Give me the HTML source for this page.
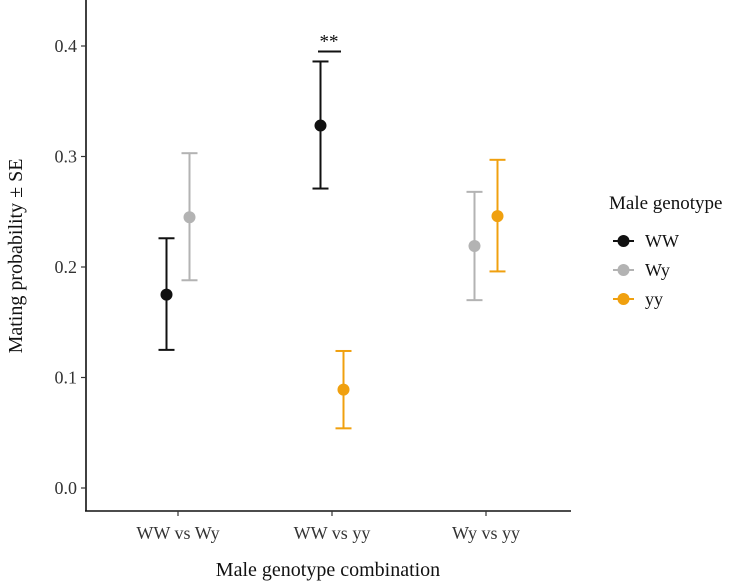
<!DOCTYPE html>
<html><head><meta charset="utf-8"><style>
body{margin:0;background:#fff}
svg{display:block;font-family:"Liberation Serif",serif}
</style></head><body>
<svg width="741" height="583" viewBox="0 0 741 583">
<g id="plot"></g>
<script>
const categories=["WW vs Wy","WW vs yy","Wy vs yy"];
const genotypes=["WW","Wy","yy"];
const colors={"WW":"#111111","Wy":"#b3b3b3","yy":"#f0a00f"};
const seriesCat=[0,0,1,1,2,2];
const seriesGeno=["WW","Wy","WW","yy","Wy","yy"];
const means=[0.175,0.245,0.328,0.089,0.219,0.246];
const lows=[0.125,0.188,0.271,0.054,0.170,0.196];
const highs=[0.226,0.303,0.386,0.124,0.268,0.297];
const yTicks=[0,0.1,0.2,0.3,0.4];
const yTickLabels=["0.0","0.1","0.2","0.3","0.4"];
const sigValue=0.395;
const NS="http://www.w3.org/2000/svg";
const g=document.getElementById('plot');
const y=v=>488-v*1105;
const xc=i=>178+i*154;
function mk(t,a,p){const e=document.createElementNS(NS,t);for(const k in a)e.setAttribute(k,a[k]);(p||g).appendChild(e);return e;}
let e=mk('line',{x1:86,y1:0,x2:86,y2:511,stroke:'#111','stroke-width':1.6});


e=mk('line',{x1:85,y1:511,x2:571,y2:511,stroke:'#111','stroke-width':1.6});


yTicks.forEach((v,i)=>{
 let t=mk('line',{x1:81,x2:86,y1:y(v),y2:y(v),stroke:'#333','stroke-width':1.2});
 
 
 let l=mk('text',{x:77,y:y(v)+6,'text-anchor':'end','font-size':18,fill:'#333'});
 l.textContent=yTickLabels[i];
 
 
});
categories.forEach((c,i)=>{
 let t=mk('line',{x1:xc(i),x2:xc(i),y1:511,y2:516,stroke:'#333','stroke-width':1.2});
 
 
 let l=mk('text',{x:xc(i),y:539,'text-anchor':'middle','font-size':18,fill:'#333'});
 l.textContent=c;
 
 
});
means.forEach((m,i)=>{
 const first=seriesCat.indexOf(seriesCat[i])===i;
 const x=xc(seriesCat[i])+(first?-11.5:11.5);const col=colors[seriesGeno[i]];
 const grp=mk('g',{});
 
 
 mk('line',{x1:x,x2:x,y1:y(lows[i]),y2:y(highs[i]),stroke:col,'stroke-width':2},grp);
 mk('line',{x1:x-8,x2:x+8,y1:y(lows[i]),y2:y(lows[i]),stroke:col,'stroke-width':2},grp);
 mk('line',{x1:x-8,x2:x+8,y1:y(highs[i]),y2:y(highs[i]),stroke:col,'stroke-width':2},grp);
 const p=mk('circle',{cx:x,cy:y(m),r:6,fill:col});
 
 
});
e=mk('line',{x1:xc(1)-14,x2:xc(1)+9,y1:y(sigValue),y2:y(sigValue),stroke:'#111','stroke-width':2});


e=mk('text',{x:xc(1)-3,y:y(sigValue)-4,'text-anchor':'middle','font-size':19,fill:'#111'});
e.textContent='**';


const lg=mk('g',{});


e=mk('text',{x:609,y:209,'font-size':19,fill:'#111'},lg);
e.textContent='Male genotype';


genotypes.forEach((gn,i)=>{
 const yy=241+i*29;
 const en=mk('g',{},lg);
 
 
 mk('line',{x1:613,x2:634,y1:yy,y2:yy,stroke:colors[gn],'stroke-width':2},en);
 mk('circle',{cx:623.5,cy:yy,r:6,fill:colors[gn]},en);
 const t=mk('text',{x:645,y:yy+6,'font-size':18,fill:'#111'},en);t.textContent=gn;
});
</script>
<text x="328" y="576" text-anchor="middle" font-size="20" fill="#111">Male genotype combination</text>
<text transform="translate(22,256) rotate(-90)" text-anchor="middle" font-size="20" fill="#111">Mating probability ± SE</text>
</svg>
</body></html>
